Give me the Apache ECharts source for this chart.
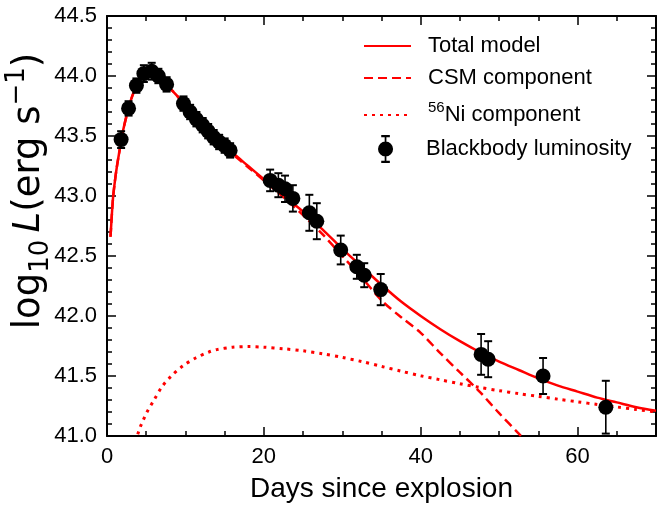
<!DOCTYPE html>
<html><head><meta charset="utf-8">
<script src="https://cdn.jsdelivr.net/npm/echarts@6/dist/echarts.min.js"></script>
<style>html,body{margin:0;padding:0;background:#fff}#c{width:657px;height:506px}</style>
</head><body><div id="c"></div>
<script>
// Observed blackbody luminosity
const obsDays = [1.8, 2.75, 3.75, 4.7, 5.7, 6.55, 7.6, 9.75, 10.6, 11.4, 12.2, 12.9, 13.6, 14.3, 15.0, 15.7,
  20.8, 21.85, 22.7, 23.7, 25.8, 26.75, 29.8, 31.85, 32.8, 34.9, 47.7, 48.6, 55.6, 63.6];
const obsLogL = [43.47, 43.73, 43.92, 44.02, 44.04, 44.00, 43.93, 43.77, 43.70, 43.64, 43.59, 43.54, 43.49, 43.45, 43.42, 43.38,
  43.13, 43.09, 43.06, 42.98, 42.86, 42.79, 42.55, 42.41, 42.34, 42.22, 41.68, 41.64, 41.50, 41.24];
const obsErr = [0.07, 0.06, 0.06, 0.07, 0.07, 0.06, 0.06, 0.06, 0.06, 0.06, 0.06, 0.06, 0.06, 0.06, 0.06, 0.06,
  0.09, 0.10, 0.11, 0.11, 0.15, 0.15, 0.12, 0.10, 0.10, 0.13, 0.17, 0.15, 0.15, 0.22];

// Total model
const totalDays = [0.45, 0.75, 1.0, 1.25, 1.5, 2.0, 2.5, 3.0, 3.5, 4.0, 4.5, 5.0, 5.5, 6.0, 6.5, 7.0, 8, 9, 10, 11, 12, 13, 14, 15, 16, 18, 20,
  22.5, 25, 27.5, 30, 32.5, 35, 37.5, 40, 42.5, 45, 47.5, 50, 52.5, 55, 57.5, 60, 62.5, 65, 67.5, 70];
const totalLogL = [42.66, 42.97, 43.12, 43.24, 43.34, 43.53, 43.67, 43.79, 43.88, 43.95, 44.00, 44.02, 44.03, 44.02, 44.00, 43.97,
  43.90, 43.83, 43.75, 43.67, 43.60, 43.53, 43.47, 43.41, 43.36, 43.25, 43.14,
  43.00, 42.87, 42.72, 42.56, 42.41, 42.26, 42.12, 42.00, 41.89, 41.79, 41.70, 41.62, 41.55, 41.48, 41.42, 41.37, 41.32, 41.28, 41.24, 41.21];

// CSM component
const csmDays = [0.45, 0.75, 1.0, 1.25, 1.5, 2.0, 2.5, 3.0, 3.5, 4.0, 4.5, 5.0, 5.5, 6.0, 6.5, 7.0, 8, 9, 10, 11, 12, 13, 14, 15, 16, 18, 20,
  22.5, 25, 27.5, 30, 32.5, 35, 37.5, 40, 42.5, 45, 47.5, 50, 52.5, 55];
const csmLogL = [42.66, 42.97, 43.12, 43.24, 43.34, 43.53, 43.67, 43.79, 43.88, 43.95, 44.00, 44.02, 44.03, 44.02, 44.00, 43.97,
  43.90, 43.83, 43.75, 43.67, 43.60, 43.53, 43.47, 43.41, 43.35, 43.24, 43.13,
  42.99, 42.84, 42.68, 42.50, 42.32, 42.13, 41.99, 41.86, 41.69, 41.53, 41.37, 41.19, 41.02, 40.85];

// 56Ni component
const niDays = [3.6, 4.0, 4.3, 4.6, 5.1, 6.0, 7.0, 8.2, 9.7, 11.3, 13, 14, 16, 18, 20, 22.5, 25, 27.5, 30, 32.5, 35, 37.5, 40,
  42.5, 45, 47.5, 50, 52.5, 55, 57.5, 60, 62.5, 65, 67.5, 70];
const niLogL = [40.95, 41.03, 41.085, 41.13, 41.20, 41.30, 41.41, 41.50, 41.585, 41.65, 41.70, 41.72, 41.74, 41.745, 41.74,
  41.727, 41.71, 41.685, 41.655, 41.62, 41.58, 41.54, 41.502, 41.468, 41.436, 41.405, 41.378, 41.353, 41.33, 41.307, 41.285,
  41.263, 41.242, 41.221, 41.20];

const zip = (a, b) => a.map((v, i) => [v, b[i]]);
const FONT = '"Liberation Sans", Arial, Helvetica, sans-serif';
const TFONT = '"DejaVu Sans", "Liberation Sans", sans-serif';
const RED = '#ff0000';

const chart = echarts.init(document.getElementById('c'), null, {renderer: 'canvas'});

const axisCommon = {
  axisLine: {show: true, onZero: false, lineStyle: {color: '#000', width: 2}},
  axisTick: {show: true, inside: true, length: 9, lineStyle: {color: '#000', width: 1.5}},
  minorTick: {show: true, length: 5, lineStyle: {color: '#000', width: 1.5}},
  splitLine: {show: false},
  minorSplitLine: {show: false}
};

const errBarSeries = {
  type: 'custom', name: 'errbars', silent: true, z: 9, clip: true,
  data: obsDays.map((d, i) => [d, obsLogL[i], obsErr[i]]),
  renderItem: function (params, api) {
    const x = api.value(0), y = api.value(1), e = api.value(2);
    const t = api.coord([x, y + e]), b = api.coord([x, y - e]);
    const hw = 4;
    return {type: 'group', children: [
      {type: 'line', shape: {x1: t[0], y1: t[1], x2: b[0], y2: b[1]}, style: {stroke: '#000', lineWidth: 1.6}},
      {type: 'line', shape: {x1: t[0] - hw, y1: t[1], x2: t[0] + hw, y2: t[1]}, style: {stroke: '#000', lineWidth: 2}},
      {type: 'line', shape: {x1: b[0] - hw, y1: b[1], x2: b[0] + hw, y2: b[1]}, style: {stroke: '#000', lineWidth: 2}}
    ]};
  }
};

const legendText = {
  fontFamily: FONT, fontSize: 22, color: '#000', padding: [0, 0, 0, 12],
  rich: {
    sup: {fontFamily: FONT, fontSize: 15, verticalAlign: 'top', lineHeight: 15},
    n: {fontFamily: FONT, fontSize: 22, lineHeight: 30}
  }
};
const hideSym = {opacity: 0};
const bbIcon = 'path://M6,1 L14,1 L14,3 L6,3 Z M6,25 L14,25 L14,27 L6,27 Z M9.2,2 L10.8,2 L10.8,26 L9.2,26 Z M3,14 A7,7 0 1,1 17,14 A7,7 0 1,1 3,14 Z';

const option = {
  animation: false,
  backgroundColor: '#fff',
  grid: {left: 107, right: 1, top: 16, bottom: 70, containLabel: false, outerBoundsMode: 'none'},
  legend: [
    {data: ['Total model'], left: 363, top: 35, padding: 0, itemWidth: 47, itemHeight: 14, textStyle: legendText, selectedMode: false, itemStyle: hideSym},
    {data: ['CSM component'], left: 363, top: 67, padding: 0, itemWidth: 47, itemHeight: 14, textStyle: legendText, selectedMode: false, itemStyle: hideSym},
    {data: ['Ni component'], left: 363, top: 100, padding: 0, itemWidth: 47, itemHeight: 14, textStyle: legendText, selectedMode: false, itemStyle: hideSym,
      formatter: function () { return '{sup|56}{n|Ni component}'; }},
    {data: [{name: 'Blackbody luminosity', icon: bbIcon}], left: 378, top: 135, padding: 0, itemWidth: 47, itemHeight: 28, textStyle: legendText, selectedMode: false}
  ],
  xAxis: [
    Object.assign({}, axisCommon, {
      type: 'value', position: 'bottom', min: 0, max: 70, interval: 20,
      minorTick: Object.assign({}, axisCommon.minorTick, {splitNumber: 4}),
      axisLabel: {show: true, margin: 10, fontFamily: FONT, fontSize: 22, color: '#000', showMaxLabel: false},
      name: 'Days since explosion', nameLocation: 'middle', nameGap: 39, nameMoveOverlap: false,
      nameTextStyle: {fontFamily: FONT, fontSize: 28, color: '#000'}
    }),
    Object.assign({}, axisCommon, {
      type: 'value', position: 'top', min: 0, max: 70, interval: 20,
      minorTick: Object.assign({}, axisCommon.minorTick, {splitNumber: 4}),
      axisLabel: {show: false}
    })
  ],
  yAxis: [
    Object.assign({}, axisCommon, {
      type: 'value', position: 'left', min: 41.0, max: 44.5, interval: 0.5,
      minorTick: Object.assign({}, axisCommon.minorTick, {splitNumber: 5}),
      axisLabel: {show: true, margin: 10, fontFamily: FONT, fontSize: 22, color: '#000',
        formatter: v => v.toFixed(1)},
      name: 'log{sub|10}\u2009{it|L}(erg s{sup|\u22121})', nameLocation: 'middle', nameGap: 53, nameMoveOverlap: false,
      nameTextStyle: {
        fontFamily: TFONT, fontSize: 37, color: '#000', lineHeight: 50, padding: [0, 0, 0, 70],
        rich: {
          sub: {fontFamily: TFONT, fontSize: 26, verticalAlign: 'bottom', lineHeight: 25},
          sup: {fontFamily: TFONT, fontSize: 26, verticalAlign: 'top', lineHeight: 25},
          it: {fontFamily: TFONT, fontSize: 37, fontStyle: 'italic', lineHeight: 50}
        }
      }
    }),
    Object.assign({}, axisCommon, {
      type: 'value', position: 'right', min: 41.0, max: 44.5, interval: 0.5,
      minorTick: Object.assign({}, axisCommon.minorTick, {splitNumber: 5}),
      axisLabel: {show: false}
    })
  ],
  series: [
    {name: 'Total model', type: 'line', data: zip(totalDays, totalLogL), symbol: 'none', smooth: 0.3, clip: true, z: 3,
      lineStyle: {color: RED, width: 2.5}, itemStyle: {color: RED}},
    {name: 'CSM component', type: 'line', data: zip(csmDays, csmLogL), symbol: 'none', smooth: 0.3, clip: true, z: 3,
      lineStyle: {color: RED, width: 2.5, type: [9, 5]}, itemStyle: {color: RED}},
    {name: 'Ni component', type: 'line', data: zip(niDays, niLogL), symbol: 'none', smooth: 0.3, clip: true, z: 3,
      lineStyle: {color: RED, width: 3, type: [3, 5]}, itemStyle: {color: RED}},
    errBarSeries,
    {name: 'Blackbody luminosity', type: 'scatter', data: zip(obsDays, obsLogL), symbol: 'circle', symbolSize: 15, z: 10,
      itemStyle: {color: '#000', opacity: 1}}
  ]
};
chart.setOption(option);
</script>
</body></html>
